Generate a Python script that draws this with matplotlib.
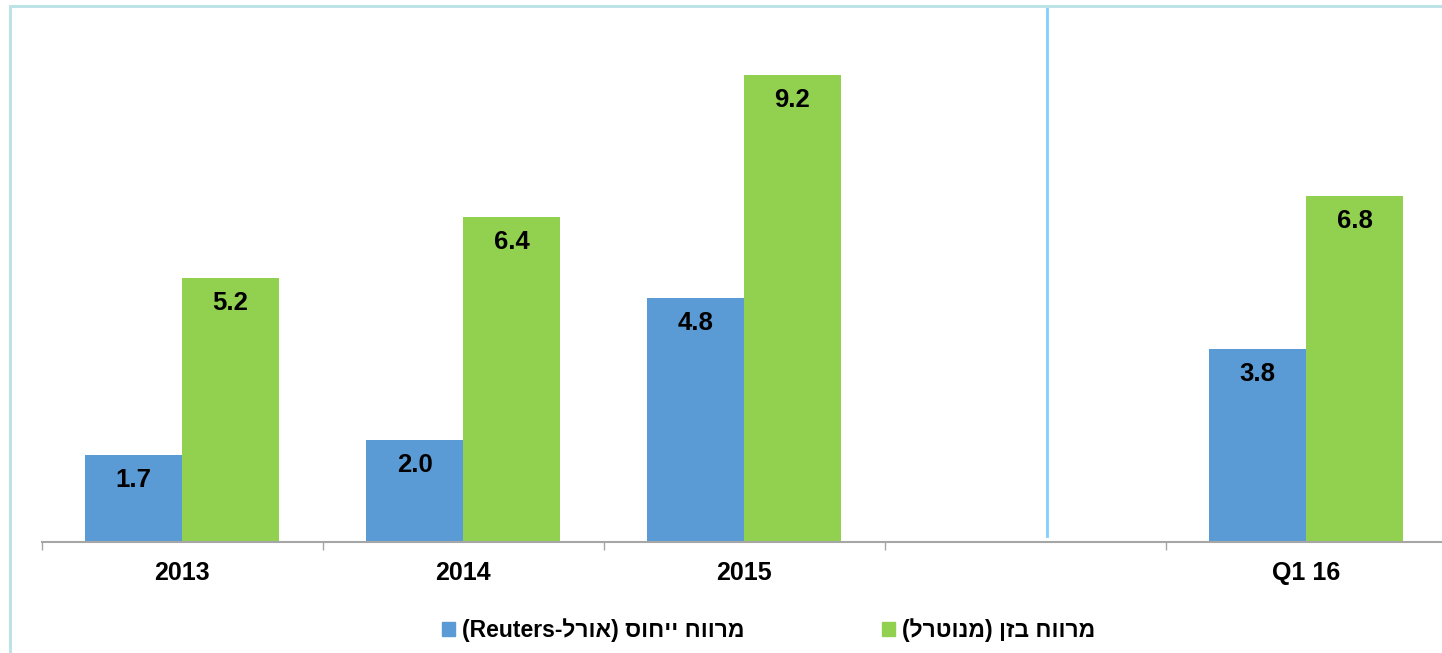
import numpy as np
import matplotlib
matplotlib.use('Agg')
import matplotlib.pyplot as plt
from matplotlib.patches import Rectangle, Patch

plt.rcParams['font.family'] = ['Liberation Sans', 'DejaVu Sans']

# data
categories = ['2013', '2014', '2015', '', 'Q1 16']
spread_ref = [1.7, 2.0, 4.8, None, 3.8]      # blue
spread_zen = [5.2, 6.4, 9.2, None, 6.8]      # green
# hebrew labels given in visual (left to right) order, matplotlib has no bidi
label_ref = '(Reuters-' + 'לרוא' + ') ' + 'סוחיי' + ' ' + 'חוורמ'
label_zen = '(' + 'לרטונמ' + ') ' + 'ןזב' + ' ' + 'חוורמ'

c_blue = '#5B9BD5'
c_green = '#92D050'

W, H = 1442, 653
fig = plt.figure(figsize=(W / 100, H / 100), dpi=100)

# outer frame (cropped on the right and bottom)
fig.patches.append(Rectangle((9.5 / W, -0.1), 1.2, 1 - 6.5 / H + 0.1,
                             transform=fig.transFigure, fill=False,
                             edgecolor='#BEE3E6', linewidth=2.2))

left, right, bottom, top = 41.5, 1446.5, 541.7, 7.0
ax = fig.add_axes([left / W, 1 - bottom / H, (right - left) / W, (bottom - top) / H])

x = np.arange(len(categories))
bw = 0.345
for i in range(len(categories)):
    if spread_ref[i] is None:
        continue
    b1 = ax.bar(x[i] - bw / 2, spread_ref[i], bw, color=c_blue)
    b2 = ax.bar(x[i] + bw / 2, spread_zen[i], bw, color=c_green)
    for b, v in ((b1[0], spread_ref[i]), (b2[0], spread_zen[i])):
        ax.annotate(f'{v:.1f}', (b.get_x() + b.get_width() / 2, v),
                    xytext=(0, -18), textcoords='offset points',
                    ha='center', va='center', fontsize=18.5, fontweight='bold')

ax.set_xlim(-0.5, len(categories) - 0.5)
ax.set_ylim(0, 10.53)

# separator between years and quarter
ax.axvline(3.08, ymin=0.0107, ymax=1, color='#80CFFF', linewidth=2)

for s in ['top', 'right', 'left']:
    ax.spines[s].set_visible(False)
ax.spines['bottom'].set_color('#A6A6A6')
ax.spines['bottom'].set_linewidth(1.5)
ax.set_yticks([])

ax.set_xticks(np.arange(-0.5, len(categories), 1.0))
ax.set_xticklabels([])
ax.tick_params(axis='x', which='major', direction='out', length=5.5,
               width=1, color='#A6A6A6')
ax.set_xticks(x, minor=True)
ax.set_xticklabels(categories, minor=True, fontsize=18, fontweight='bold')
ax.tick_params(axis='x', which='minor', length=0, pad=14)

handles = [Patch(color=c_blue, label=label_ref),
           Patch(color=c_green, label=label_zen)]
fig.legend(handles=handles, loc='center', bbox_to_anchor=(768.5 / W, 1 - 630 / H),
           ncol=2, frameon=False, prop={'size': 16.5, 'weight': 'bold'},
           handlelength=0.58, handleheight=0.58, handletextpad=0.3,
           columnspacing=6.0)

fig.savefig('out.png', dpi=100)
